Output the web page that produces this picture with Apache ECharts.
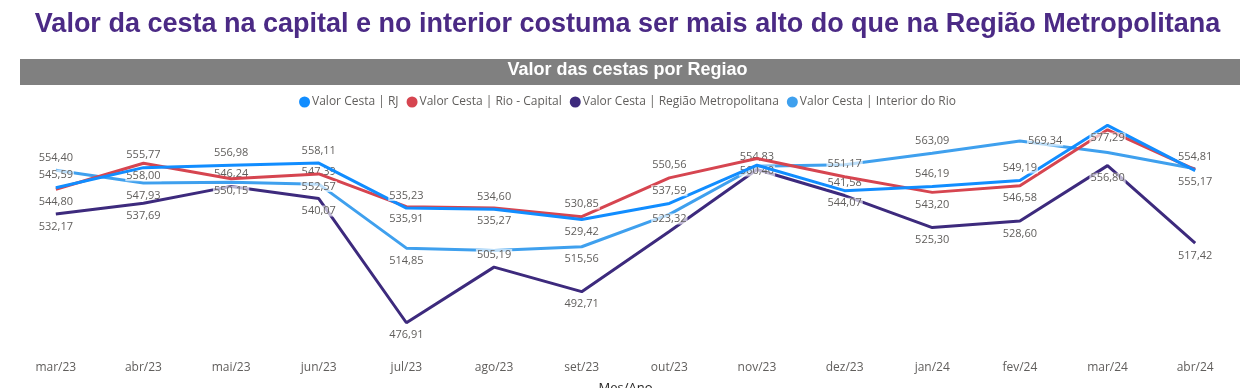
<!DOCTYPE html>
<html><head><meta charset="utf-8">
<script src="https://cdn.jsdelivr.net/npm/echarts@6/dist/echarts.min.js"></script>
<style>html,body{margin:0;padding:0;background:#fff}#c{width:1255px;height:388px}</style>
</head><body><div id="c"></div>
<script>
const categories = ['mar/23','abr/23','mai/23','jun/23','jul/23','ago/23','set/23','out/23','nov/23','dez/23','jan/24','fev/24','mar/24','abr/24'];
const seriesNames = ['Valor Cesta | RJ','Valor Cesta | Rio - Capital','Valor Cesta | Região Metropolitana','Valor Cesta | Interior do Rio'];
const rj       = [545.59, 555.77, 556.98, 558.11, 535.23, 534.60, 529.42, 537.59, 557.00, 544.07, 546.19, 549.19, 577.29, 554.30];
const capital  = [544.80, 558.00, 550.15, 552.57, 535.91, 535.27, 530.85, 550.56, 560.40, 551.17, 543.20, 546.58, 575.00, 554.81];
const metro    = [532.17, 537.69, 546.24, 540.07, 476.91, 505.19, 492.71, 523.32, 554.83, 541.58, 525.30, 528.60, 556.80, 517.42];
const interior = [554.40, 547.93, 548.40, 547.39, 514.85, 513.60, 515.56, 532.00, 556.50, 557.30, 563.09, 569.34, 563.50, 555.17];
// which points carry a visible data label (as in the reference)
const rjLabeled       = [1,1,1,1,1,1,1,1,0,1,1,1,1,0];
const capitalLabeled  = [1,1,1,1,1,1,1,1,1,1,1,1,0,1];
const metroLabeled    = [1,1,1,1,1,1,1,1,1,1,1,1,1,1];
const interiorLabeled = [1,1,0,1,1,0,1,0,0,0,1,1,0,1];

// label placement (style)
const posStyle = {
  rj:       ['top','top','top','top','top','top','bottom','top','top','bottom','top','top','bottom','top'],
  capital:  ['bottom','bottom','bottom','bottom','bottom','bottom','top','top','bottom','top','bottom','bottom','top','top'],
  metro:    ['bottom','bottom','top','bottom','bottom','top','bottom','top','top','top','bottom','bottom','bottom','bottom'],
  interior: ['top','bottom','top','top','bottom','top','bottom','top','top','top','top','right','top','bottom']
};
const colors = ['#118DFF','#D64550','#3D2A7D','#3FA0EE'];
const fmt = v => v.toFixed(2).replace('.', ',');

function build(values, labeled, pos) {
  return values.map((v, i) => ({
    value: v,
    label: { show: !!labeled[i], position: pos[i] }
  }));
}
const chart = echarts.init(document.getElementById('c'), null, {renderer:'canvas'});
const mk = (name, vals, lab, pos, color, z) => ({
  name, type: 'line', data: build(vals, lab, pos), z,
  symbol: 'circle', symbolSize: 0.1, showSymbol: true,
  lineStyle: { width: 3, color }, itemStyle: { color },
  label: {
    distance: 7, color: '#605E5C', fontSize: 11, fontFamily: 'Open Sans',
    backgroundColor: 'rgba(255,255,255,0.65)', padding: [0, 1],
    formatter: p => fmt(p.value)
  },
  emphasis: { disabled: true }, animation: false
});
chart.setOption({
  animation: false,
  color: colors,
  title: {
    text: 'Valor da cesta na capital e no interior costuma ser mais alto do que na Região Metropolitana',
    left: 'center', top: 6,
    textStyle: { fontFamily: 'Liberation Sans', fontWeight: 'bold', fontSize: 27, color: '#4B2A85' }
  },
  graphic: [
    { type: 'rect', left: 20, top: 59, shape: { width: 1220, height: 26 }, style: { fill: '#808080' }, z: -1 },
    { type: 'text', left: 'center', top: 61, style: { text: 'Valor das cestas por Regiao', fill: '#fff', font: 'bold 18px "Liberation Sans"' } }
  ],
  legend: {
    top: 91, left: 'center', icon: 'circle', itemWidth: 11, itemHeight: 11, itemGap: 8,
    textStyle: { fontFamily: 'Open Sans', fontSize: 12, color: '#605E5C', padding: [0,0,0,-3] },
    data: seriesNames
  },
  grid: { left: 12, right: 16, top: 120, bottom: 32, containLabel: false, outerBoundsMode: 'none' },
  xAxis: {
    type: 'category', data: categories, boundaryGap: true,
    axisLine: { show: false }, axisTick: { show: false },
    axisLabel: { color: '#605E5C', fontSize: 12, fontFamily: 'Open Sans', margin: 6 },
    name: 'Mes/Ano', nameLocation: 'middle', nameGap: 26,
    nameTextStyle: { color: '#252423', fontSize: 13, fontFamily: 'Open Sans' }
  },
  yAxis: { type: 'value', min: 460, max: 580, show: false, splitLine: { show: false } },
  series: [
    mk(seriesNames[3], interior, interiorLabeled, posStyle.interior, colors[3], 2),
    mk(seriesNames[2], metro, metroLabeled, posStyle.metro, colors[2], 3),
    mk(seriesNames[1], capital, capitalLabeled, posStyle.capital, colors[1], 4),
    mk(seriesNames[0], rj, rjLabeled, posStyle.rj, colors[0], 5)
  ]
});
</script></body></html>
